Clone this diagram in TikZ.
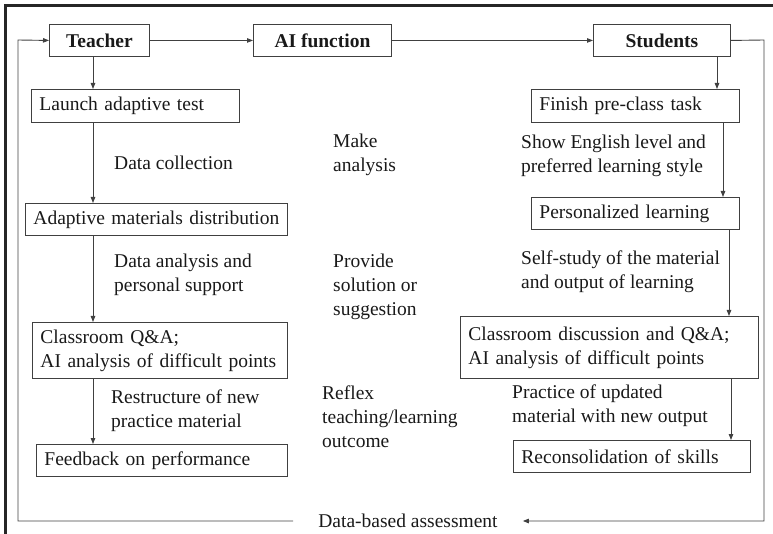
\documentclass[tikz,border=0pt]{standalone}
\usepackage{fontspec}
\setmainfont{Liberation Serif}
\usetikzlibrary{arrows.meta}
\begin{document}
\begin{tikzpicture}[x=1pt,y=-1pt,
  every node/.style={font=\fontsize{19.5}{24}\selectfont, text=black!90},
  box/.style={draw=black!75, line width=0.9pt, anchor=north west, align=left, inner xsep=8pt, inner ysep=0pt},
  hbox/.style={draw=black!75, line width=0.9pt, anchor=north west, align=center, inner sep=0pt, font=\fontsize{19.5}{24}\selectfont\bfseries},
  lbl/.style={anchor=west, align=left, inner sep=0pt},
  conn/.style={draw=black!75, line width=0.9pt},
  arr/.style={conn, -{Triangle[length=6pt,width=4.5pt]}},
  frame/.style={draw=black!85, line width=2.5pt}]
\useasboundingbox (0,0) rectangle (773,534);
\draw[frame] (5.5,534) -- (5.5,5.5) -- (773,5.5);

% headers
\node[hbox, minimum width=100pt, minimum height=32pt] (teacher) at (49,24) {Teacher};
\node[hbox, minimum width=138pt, minimum height=32pt] (ai) at (253,24) {AI function};
\node[hbox, minimum width=137pt, minimum height=32pt] (students) at (593,24) {Students};

% left column
\node[box, text width=192pt, minimum height=33pt] (launch) at (31,89) {Launch adaptive test};
\node[box, text width=246pt, minimum height=32pt] (adaptive) at (25,203) {Adaptive materials distribution};
\node[box, text width=239pt, minimum height=56pt] (class1) at (32,322) {Classroom Q\&A;\\AI analysis of difficult points};
\node[box, text width=235pt, minimum height=32pt] (feedback) at (36,444) {Feedback on performance};

% right column
\node[box, text width=192pt, minimum height=33pt] (finish) at (531,89) {Finish pre-class task};
\node[box, text width=192pt, minimum height=32pt] (personal) at (531,197) {Personalized learning};
\node[box, text width=282pt, minimum height=62pt] (class2) at (460,316) {Classroom discussion and Q\&A;\\AI analysis of difficult points};
\node[box, text width=221pt, minimum height=32pt] (recon) at (513,440) {Reconsolidation of skills};

% labels
\node[lbl] (l1) at (114,163) {Data collection};
\node[lbl] (l2) at (114,275) {Data analysis and\\personal support};
\node[lbl] (l3) at (111,411) {Restructure of new\\practice material};
\node[lbl] (m1) at (333,155) {Make\\analysis};
\node[lbl] (m2) at (333,287) {Provide\\solution or\\suggestion};
\node[lbl] (m3) at (322,417) {Reflex\\teaching/learning\\outcome};
\node[lbl] (r1) at (521,156) {Show English level and\\preferred learning style};
\node[lbl] (r2) at (521,272) {Self-study of the material\\and output of learning};
\node[lbl] (r3) at (512,406) {Practice of updated\\material with new output};
\node[inner xsep=25pt, inner ysep=2pt] (dba) at (408,521) {Data-based assessment};

% coordinates
\coordinate (xl) at (93,0);
\coordinate (xr1) at (717,0);
\coordinate (xr2) at (723,0);
\coordinate (xr3) at (729,0);
\coordinate (xr4) at (731,0);
\coordinate (cTL) at (18,40);
\coordinate (cBL) at (18,521);
\coordinate (cTR) at (764,40);
\coordinate (cBR) at (764,521);

% connectors
\draw[arr] (teacher) -- (ai);
\draw[arr] (ai) -- (students);
\draw[arr] (teacher.south -| xl) -- (launch.north -| xl);
\draw[arr] (launch.south -| xl) -- (adaptive.north -| xl);
\draw[arr] (adaptive.south -| xl) -- (class1.north -| xl);
\draw[arr] (class1.south -| xl) -- (feedback.north -| xl);
\draw[arr] (students.south -| xr1) -- (finish.north -| xr1);
\draw[arr] (finish.south -| xr2) -- (personal.north -| xr2);
\draw[arr] (personal.south -| xr3) -- (class2.north -| xr3);
\draw[arr] (class2.south -| xr4) -- (recon.north -| xr4);
\draw[arr] (students.east) -- (cTR) -- (cBR) -- (dba.east);
\draw[arr] (dba.west) -- (cBL) -- (cTL) -- (teacher.west);
\end{tikzpicture}
\end{document}
